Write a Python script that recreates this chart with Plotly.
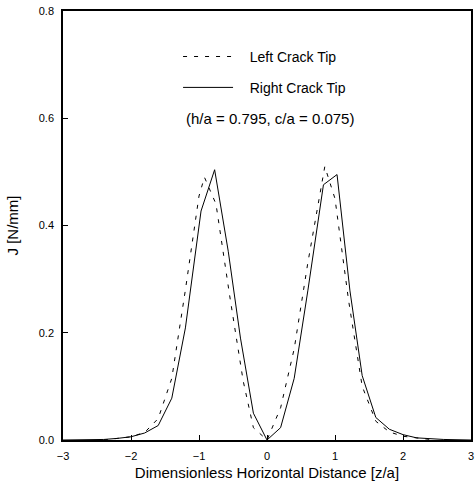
import plotly.graph_objects as go

# Right Crack Tip (solid)
right_z = [-3.0, -2.4, -2.2, -2.0, -1.8, -1.6, -1.4, -1.2, -0.97, -0.77, -0.57, -0.39, -0.2, 0.0,
           0.2, 0.4, 0.6, 0.83, 1.03, 1.22, 1.4, 1.6, 1.8, 2.0, 2.2, 2.4, 2.6, 3.0]
right_j = [0.0, 0.001, 0.003, 0.006, 0.013, 0.027, 0.078, 0.209, 0.427, 0.504, 0.352, 0.19, 0.05, 0.0,
           0.023, 0.115, 0.278, 0.476, 0.495, 0.278, 0.12, 0.042, 0.02, 0.01, 0.004, 0.002, 0.001, 0.0]

# Left Crack Tip (dashed)
left_z = [-2.4, -2.0, -1.8, -1.6, -1.4, -1.2, -1.0, -0.92, -0.75, -0.55, -0.35, -0.2, 0.0,
          0.2, 0.4, 0.6, 0.85, 1.0, 1.2, 1.4, 1.6, 1.8, 2.0, 2.4]
left_j = [0.0, 0.006, 0.014, 0.04, 0.115, 0.28, 0.455, 0.49, 0.44, 0.27, 0.11, 0.023, 0.0,
          0.06, 0.17, 0.33, 0.51, 0.45, 0.26, 0.1, 0.035, 0.015, 0.007, 0.001]

x_ticks = [-3, -2, -1, 0, 1, 2, 3]
y_ticks = [0.0, 0.2, 0.4, 0.6, 0.8]
y_tick_labels = ["0.0", "0.2", "0.4", "0.6", "0.8"]

FONT = "Liberation Sans, Arial, sans-serif"
PAD = "\u00a0\u00a0\u00a0"

fig = go.Figure()
fig.add_trace(go.Scatter(x=left_z, y=left_j, mode="lines", name=PAD + "Left Crack Tip",
                         line=dict(color="black", width=1, dash="4px,7px"), legend="legend"))
fig.add_trace(go.Scatter(x=right_z, y=right_j, mode="lines", name=PAD + "Right Crack Tip",
                         line=dict(color="black", width=1), legend="legend2"))

legend_style = dict(font=dict(family=FONT, size=14, color="black"), bgcolor="rgba(0,0,0,0)",
                    xanchor="left", yanchor="middle", itemwidth=50)
fig.update_layout(
    width=476, height=483,
    margin=dict(l=63, r=3, t=11, b=43),
    paper_bgcolor="white", plot_bgcolor="white",
    showlegend=True,
    legend=dict(x=0.282, y=0.893, **legend_style),
    legend2=dict(x=0.282, y=0.821, **legend_style),
    annotations=[dict(x=0.04, y=0.6, xref="x", yref="y", text="(h/a = 0.795, c/a = 0.075)",
                      showarrow=False, font=dict(family=FONT, size=15, color="black"))],
)
fig.update_xaxes(range=[-3, 3], tickvals=x_ticks, ticks="inside", ticklen=5, tickcolor="black",
                 showline=True, linecolor="black", linewidth=1.5, mirror=True, showgrid=False,
                 zeroline=False, ticklabelstandoff=5,
                 tickfont=dict(family=FONT, size=11, color="black"),
                 title=dict(text="Dimensionless Horizontal Distance [z/a]", standoff=7,
                            font=dict(family=FONT, size=15, color="black")))
fig.update_yaxes(range=[0, 0.8], tickvals=y_ticks, ticktext=y_tick_labels, ticks="inside", ticklen=5,
                 tickcolor="black", showline=True, linecolor="black", linewidth=1.5, mirror=True,
                 showgrid=False, zeroline=False, ticklabelstandoff=5,
                 tickfont=dict(family=FONT, size=11, color="black"),
                 title=dict(text="J [N/mm]", standoff=17, font=dict(family=FONT, size=15, color="black")))

fig.write_html("out.html")
